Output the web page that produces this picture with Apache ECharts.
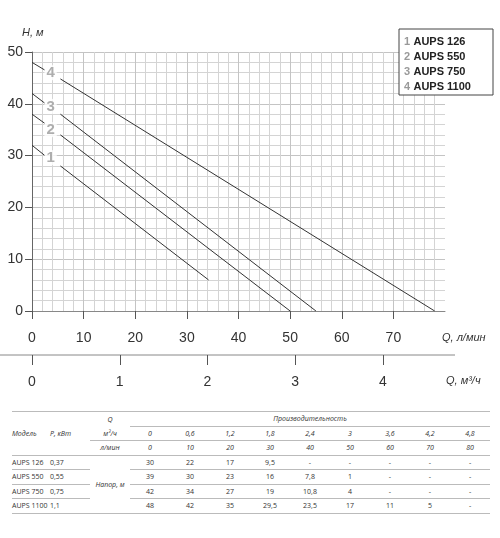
<!DOCTYPE html>
<html><head><meta charset="utf-8">
<script src="https://cdn.jsdelivr.net/npm/echarts@6/dist/echarts.min.js"></script>
<style>
body{margin:0;background:#fff;font-family:"Open Sans",sans-serif;}
#c{width:500px;height:400px;}
table{position:absolute;left:12px;top:411px;width:478px;table-layout:fixed;border-collapse:collapse;font-size:7px;font-style:italic;color:#333;}
td{height:13.5px;padding:0;text-align:center;color:#333;}
td.l{text-align:left;font-style:normal;}
td.h{font-style:italic;text-align:left}
tr.b td{border-bottom:1px solid #bbb;}
</style></head><body>
<div id="c"></div>
<table id="t"></table>
<script>
// ---- data ----
const curveNames = ['1','2','3','4'];
const models = ['AUPS 126','AUPS 550','AUPS 750','AUPS 1100'];
const powers = ['0,37','0,55','0,75','1,1'];
const qM3 = ['0','0,6','1,2','1,8','2,4','3','3,6','4,2','4,8'];
const qLmin = ['0','10','20','30','40','50','60','70','80'];
const heads = [
 ['30','22','17','9,5','-','-','-','-','-'],
 ['39','30','23','16','7,8','1','-','-','-'],
 ['42','34','27','19','10,8','4','-','-','-'],
 ['48','42','35','29,5','23,5','17','11','5','-']
];
// curve points (Q л/мин, H м); null = gap for the number label
const curve1 = [[0,32],[2.5,30],null,[5.5,28],[34.2,6]];
const curve2 = [[0,38],[2.5,36.2],null,[5.5,34],[50,0]];
const curve3 = [[0,42],[2.5,40.1],null,[5.5,38],[55,0]];
const curve4 = [[0,48],[2.5,46.5],null,[5.5,44.8],[78,0]];
const labelPos = [[3.6,29.6],[3.6,35],[3.6,39.5],[3.6,46]];
const xTicks = [0,10,20,30,40,50,60,70];
const m3Ticks = [0,1,2,3,4];

// ---- table ----
let h = '<colgroup><col style="width:38px"><col style="width:40px"><col style="width:40px">'+qM3.map(()=>'<col style="width:40px">').join('')+'</colgroup>';
h += '<tr><td class="h" rowspan="3" style="border-bottom:1px solid #bbb">Модель</td><td class="h" rowspan="3" style="border-bottom:1px solid #bbb">P, кВт</td><td>Q</td><td colspan="9" style="border-bottom:1px solid #bbb">Производительность</td></tr>';
h += '<tr class="b"><td>м³/ч</td>'+qM3.map(v=>'<td>'+v+'</td>').join('')+'</tr>';
h += '<tr class="b"><td>л/мин</td>'+qLmin.map(v=>'<td>'+v+'</td>').join('')+'</tr>';
models.forEach((m,i)=>{
  h += '<tr class="b"><td class="l">'+m+'</td><td class="l">'+powers[i]+'</td>'+(i==0?'<td rowspan="4" style="border-bottom:1px solid #bbb">Напор, м</td>':'')+heads[i].map(v=>'<td style="font-style:normal">'+v+'</td>').join('')+'</tr>';
});
document.getElementById('t').innerHTML = h;
document.getElementById('t').style.borderTop='1px solid #bbb';

// ---- chart ----
const ch = echarts.init(document.getElementById('c'));
const curves=[curve1,curve2,curve3,curve4];
const leg = curveNames.map((n,i)=>({type:'text',left:404,top:36+i*15,style:{rich:{a:{fill:'#999',fontWeight:'bold',fontSize:11},b:{fill:'#222',fontWeight:'bold',fontSize:11}},text:'{a|'+n+'} {b|'+models[i]+'}'}}));
ch.setOption({
  animation:false,
  grid:[{left:32,top:52,width:413,height:259},{left:32,top:355,width:423,height:0}],
  xAxis:[
    {gridIndex:0,type:'value',min:0,max:80,interval:10,
     axisLine:{show:true,lineStyle:{color:'#888'}},
     axisTick:{show:true,length:8,inside:false,lineStyle:{color:'#555'},customValues:xTicks},
     axisLabel:{margin:20,fontSize:14,color:'#333',customValues:xTicks},
     splitLine:{show:true,lineStyle:{color:'#c4c4c4'}},
     minorTick:{show:false,splitNumber:5},
     minorSplitLine:{show:true,lineStyle:{color:'#d4d4d4'}}},
    {gridIndex:1,type:'value',min:0,max:423/87.75,position:'top',
     axisLine:{show:false},
     axisTick:{show:true,inside:true,length:10,lineStyle:{color:'#555'},customValues:m3Ticks},
     axisLabel:{inside:true,margin:20,fontSize:14,color:'#333',customValues:m3Ticks,verticalAlign:'top'},
     splitLine:{show:false}}
  ],
  yAxis:[
    {gridIndex:0,type:'value',min:0,max:50,interval:10,
     axisLine:{show:true,lineStyle:{color:'#666'}},
     axisTick:{show:true,length:7,lineStyle:{color:'#555'}},
     axisLabel:{fontSize:14,color:'#333',margin:9},
     splitLine:{show:true,lineStyle:{color:'#c4c4c4'}},
     minorTick:{show:false,splitNumber:5},
     minorSplitLine:{show:true,lineStyle:{color:'#d4d4d4'}}},
    {gridIndex:1,type:'value',show:false}
  ],
  series:[
    ...curves.map(d=>({type:'line',data:d,symbol:'none',connectNulls:false,lineStyle:{color:'#333',width:1},z:3})),
    {type:'scatter',data:labelPos,symbolSize:0,z:4,label:{show:true,position:'inside',formatter:p=>curveNames[p.dataIndex],fontSize:15,fontWeight:'bold',color:'#9a9a9a',backgroundColor:'#fff',padding:[0,2]}}
  ],
  graphic:[
    {type:'text',left:22,top:27,style:{text:'H, м',fontStyle:'italic',fontSize:11,fill:'#333'}},
    {type:'text',left:442,top:332,style:{text:'Q, л/мин',fontStyle:'italic',fontSize:11,fill:'#333'}},
    {type:'text',left:446,top:375,style:{text:'Q, м³/ч',fontStyle:'italic',fontSize:11,fill:'#333'}},
    {type:'line',shape:{x1:0,y1:355,x2:455,y2:355},style:{stroke:'#888',lineWidth:1}},
    {type:'rect',shape:{x:399,y:29,width:94,height:66},style:{fill:'#fff',stroke:'#444',lineWidth:1},z:10},
    ...leg.map(g=>Object.assign(g,{z:11}))
  ]
});
</script></body></html>
